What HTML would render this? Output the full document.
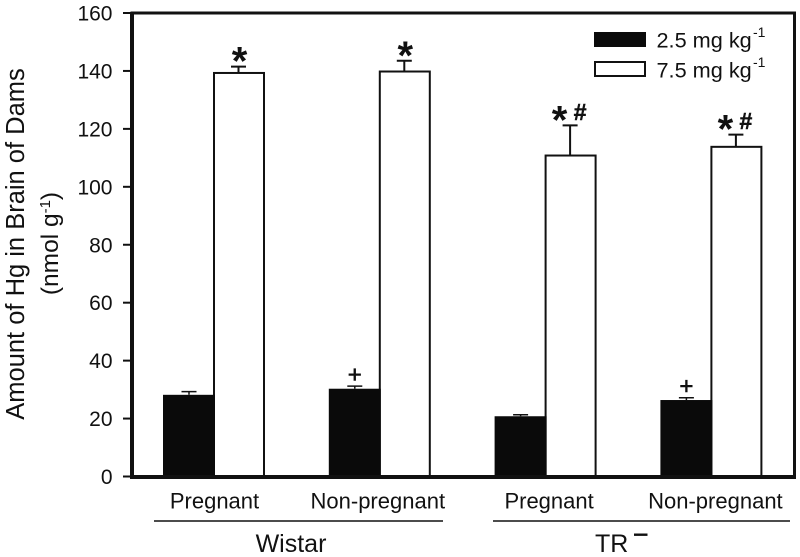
<!DOCTYPE html>
<html>
<head>
<meta charset="utf-8">
<style>
html,body{margin:0;padding:0;background:#fff;width:800px;height:557px;overflow:hidden}
svg{display:block;font-family:"Liberation Sans",sans-serif;fill:#111}
</style>
</head>
<body>
<svg id="chart" width="800" height="557" viewBox="0 0 800 557"></svg>
<script>
const categories = ["Pregnant", "Non-pregnant", "Pregnant", "Non-pregnant"];
const groupLabels = ["Wistar", "TR"];
const seriesNames = ["2.5 mg kg", "7.5 mg kg"];
const lowDose = [28.2, 30.3, 20.8, 26.4];
const lowDoseError = [1.1, 0.9, 0.5, 0.8];
const highDose = [139.3, 139.8, 110.8, 113.8];
const highDoseError = [2.2, 3.7, 10.4, 4.2];
const yTicks = [0, 20, 40, 60, 80, 100, 120, 140, 160];
const lowMarks = ["", "+", "", "+"];
const highMarks = ["*", "*", "*#", "*#"];

const NS = "http://www.w3.org/2000/svg";
const svg = document.getElementById("chart");
const y = v => 476.5 - v * (463.5 / 160);
const catCenter = i => 214 + i * 165.8;
const barW = 50;

function mk(tag, attrs, text) {
  const el = document.createElementNS(NS, tag);
  for (const k in attrs) el.setAttribute(k, attrs[k]);
  if (text !== undefined) el.textContent = text;
  svg.appendChild(el);
  return el;
}

yTicks.forEach(t => {
  const tick = mk("line", {x1: 123, x2: 132, y1: y(t), y2: y(t), stroke: "#111", "stroke-width": 2});
  
  
  const lab = mk("text", {x: 112.5, y: y(t) + 7.5, "text-anchor": "end", "font-size": 21}, String(t));
  
  
});

categories.forEach((c, i) => {
  const cx = catCenter(i);
  const hx = cx + barW / 2 - 0.5;
  const hiErr = mk("path", {
    d: `M${hx} ${y(highDose[i])}V${y(highDose[i] + highDoseError[i])}M${hx - 7.5} ${y(highDose[i] + highDoseError[i])}H${hx + 7.5}`,
    stroke: "#111", "stroke-width": 2, fill: "none"});
  
  
  const hi = mk("rect", {x: cx, y: y(highDose[i]), width: barW, height: y(0) - y(highDose[i]), fill: "#fff", stroke: "#111", "stroke-width": 2});
  
  

  const lx = cx - barW / 2;
  const loErr = mk("path", {
    d: `M${lx} ${y(lowDose[i])}V${y(lowDose[i] + lowDoseError[i])}M${lx - 7.5} ${y(lowDose[i] + lowDoseError[i])}H${lx + 7.5}`,
    stroke: "#111", "stroke-width": 1.5, fill: "none"});
  
  
  const lo = mk("rect", {x: cx - barW - 1, y: y(lowDose[i]), width: barW + 2, height: y(0) - y(lowDose[i]), fill: "#0a0a0a"});
  
  

  if (lowMarks[i]) {
    const m = mk("text", {x: lx, y: y(lowDose[i] + lowDoseError[i]) - 3.5, "text-anchor": "middle", "font-size": 24, stroke: "#111", "stroke-width": 0.6}, lowMarks[i]);
    
    
  }
  const top = y(highDose[i] + highDoseError[i]);
  const star = mk("text", {x: highMarks[i].length > 1 ? hx - 10.5 : hx + 1, y: top + 8, "text-anchor": "middle", "font-size": 40, "font-weight": "bold"}, "*");
  
  
  if (highMarks[i].length > 1) {
    const hash = mk("text", {x: hx + 10, y: top - 5.5, "text-anchor": "middle", "font-size": 23, "font-weight": "bold", stroke: "#111", "stroke-width": 0.5}, "#");
    
    
  }
  const cat = mk("text", {x: cx + [0.5, -2, 3.5, 4][i], y: 508.5, "text-anchor": "middle", "font-size": 22}, c);
  
  
});

const frame = mk("path", {d: "M132 13H794.5V476.5H132Z", fill: "none", stroke: "#111", "stroke-width": 3});


const leftAxis = mk("line", {x1: 132, x2: 132, y1: 12, y2: 478, stroke: "#111", "stroke-width": 4});


const botAxis = mk("line", {x1: 130, x2: 796, y1: 477, y2: 477, stroke: "#111", "stroke-width": 4});



const g1 = mk("line", {x1: 154, x2: 443, y1: 521, y2: 521, stroke: "#111", "stroke-width": 1.5});


const g2 = mk("line", {x1: 493, x2: 790, y1: 521, y2: 521, stroke: "#111", "stroke-width": 1.5});


const gl1 = mk("text", {x: 291, y: 552, "text-anchor": "middle", "font-size": 25}, groupLabels[0]);


const gl2 = mk("text", {x: 595, y: 552, "font-size": 25}, groupLabels[1]);


const minus = mk("rect", {x: 634, y: 533.5, width: 13.5, height: 2.4, fill: "#111"});



seriesNames.forEach((n, i) => {
  const ly = 39.5 + i * 30;
  const sw = mk("rect", {x: i ? 595 : 594, y: i ? 62 : 32, width: i ? 50 : 52, height: i ? 14 : 15, fill: i ? "#fff" : "#0a0a0a", stroke: i ? "#111" : "none", "stroke-width": 2});
  
  
  const t = mk("text", {x: 656.5, y: ly + 8, "font-size": 21.7}, n);
  
  
  const sup = mk("text", {x: 753, y: ly - 2.5, "font-size": 14}, "-1");
  
  
});

const t1 = mk("text", {transform: "translate(24 244) rotate(-90)", "text-anchor": "middle", "font-size": 25.5}, "Amount of Hg in Brain of Dams");


const t2 = mk("text", {transform: "translate(58 243.5) rotate(-90)", "text-anchor": "middle", "font-size": 24.5});


t2.innerHTML = '(nmol g<tspan dy="-8" font-size="15">-1</tspan><tspan dy="8">)</tspan>';
</script>
</body>
</html>
